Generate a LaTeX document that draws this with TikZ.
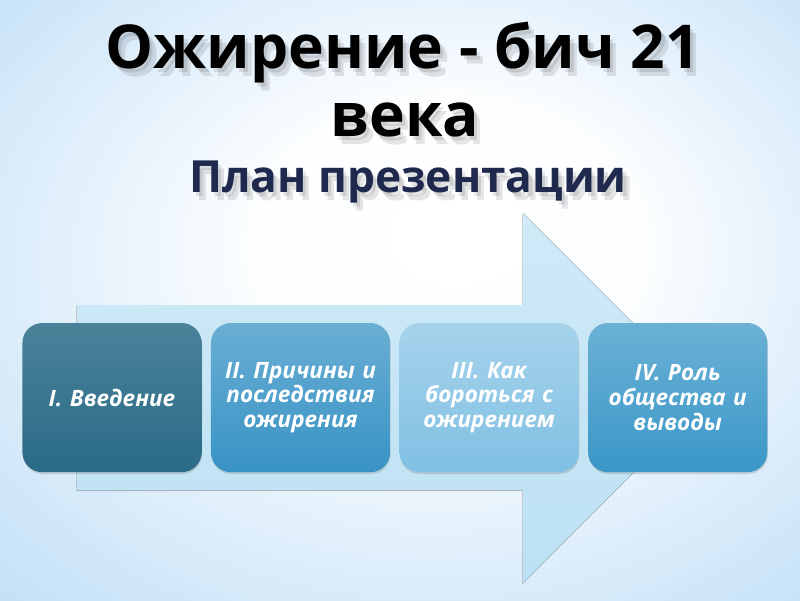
\documentclass[tikz,border=0pt]{standalone}
\usepackage{fontspec}
\setmainfont{Open Sans}
\usepackage{tikz}
\usetikzlibrary{positioning,shadows}

\definecolor{bgblue}{HTML}{A8D2F3}
\definecolor{arrowblue}{HTML}{BCE1F4}
\definecolor{plannavy}{HTML}{1E294D}
\definecolor{boxa}{HTML}{2A6B87}
\definecolor{boxb}{HTML}{3893C5}
\definecolor{boxc}{HTML}{80C0E3}
\definecolor{boxd}{HTML}{3A97C8}
\pgfdeclareradialshading{slidebg}{\pgfpoint{4bp}{6bp}}{%
  color(0bp)=(white); color(12bp)=(white!97!bgblue);
  color(34bp)=(bgblue!60); color(52bp)=(bgblue)}

\tikzset{
  titletext/.style={anchor=base, font=\bfseries\fontsize{43}{50}\selectfont},
  subtext/.style={anchor=base, font=\bfseries\fontsize{31.5}{36}\selectfont, text=plannavy},
  textshadow/.style={text=black, text opacity=0.1},
  planbox/.style={rounded corners=0.5cm, minimum width=4.48cm, minimum height=3.73cm,
    text width=4.0cm, inner xsep=2pt, align=center, text=white,
    font=\bfseries\itshape\fontsize{16}{17.5}\selectfont,
    drop shadow={opacity=0.3, shadow xshift=0.4pt, shadow yshift=-1.3pt}},
  arrowbody/.style={top color=arrowblue!70!white, bottom color=arrowblue,
    drop shadow={opacity=0.35, shadow xshift=-0.6pt, shadow yshift=-0.8pt}},
}

\begin{document}
\begin{tikzpicture}
    \useasboundingbox (0,0) rectangle (20,15);
    \shade[shading=slidebg] (0,0) rectangle (20,15);
    % title with soft shadow
    \foreach \dx/\dy in {0.08/-0.1, 0.16/-0.18} {
        \node[titletext, textshadow] at (10.07+\dx,13.275+\dy) {Ожирение - бич 21};
        \node[titletext, textshadow] at (10.12+\dx,11.575+\dy) {века};
        \node[subtext, textshadow] at (10.2+\dx,10.175+\dy) {План презентации};
    }
    \node[titletext] (title) at (10.07,13.275) {Ожирение - бич 21};
    \node[titletext] (title_cont) at (10.12,11.575) {века};
    \node[subtext] (subtitle) at (10.2,10.175) {План презентации};
    % big arrow
    \coordinate (arrow_tail_top) at (1.925,7.375);
    \coordinate (arrow_tail_bot) at (1.925,2.75);
    \coordinate (arrow_neck_top) at (13.075,7.375);
    \coordinate (arrow_neck_bot) at (13.075,2.75);
    \coordinate (arrow_head_top) at (13.075,9.675);
    \coordinate (arrow_head_bot) at (13.075,0.425);
    \coordinate (arrow_tip) at (17.7,5.05);
    \fill[arrowbody] (arrow_tail_bot) -- (arrow_tail_top) -- (arrow_neck_top)
        -- (arrow_head_top) -- (arrow_tip) -- (arrow_head_bot) -- (arrow_neck_bot) -- cycle;
    % plan steps
    \node[planbox, top color=boxa!85!white, bottom color=boxa] (intro) at (2.8,5.06)
        {I. Введение};
    \node[planbox, top color=boxb!75!white, bottom color=boxb, right=0.22cm of intro] (causes)
        {II. Причины и\\ последствия\\ ожирения};
    \node[planbox, top color=boxc!70!white, bottom color=boxc, right=0.22cm of causes] (fight)
        {III. Как\\ бороться с\\ ожирением};
    \node[planbox, top color=boxd!75!white, bottom color=boxd, right=0.22cm of fight] (society)
        {IV. Роль\\ общества и\\ выводы};
\end{tikzpicture}
\end{document}
